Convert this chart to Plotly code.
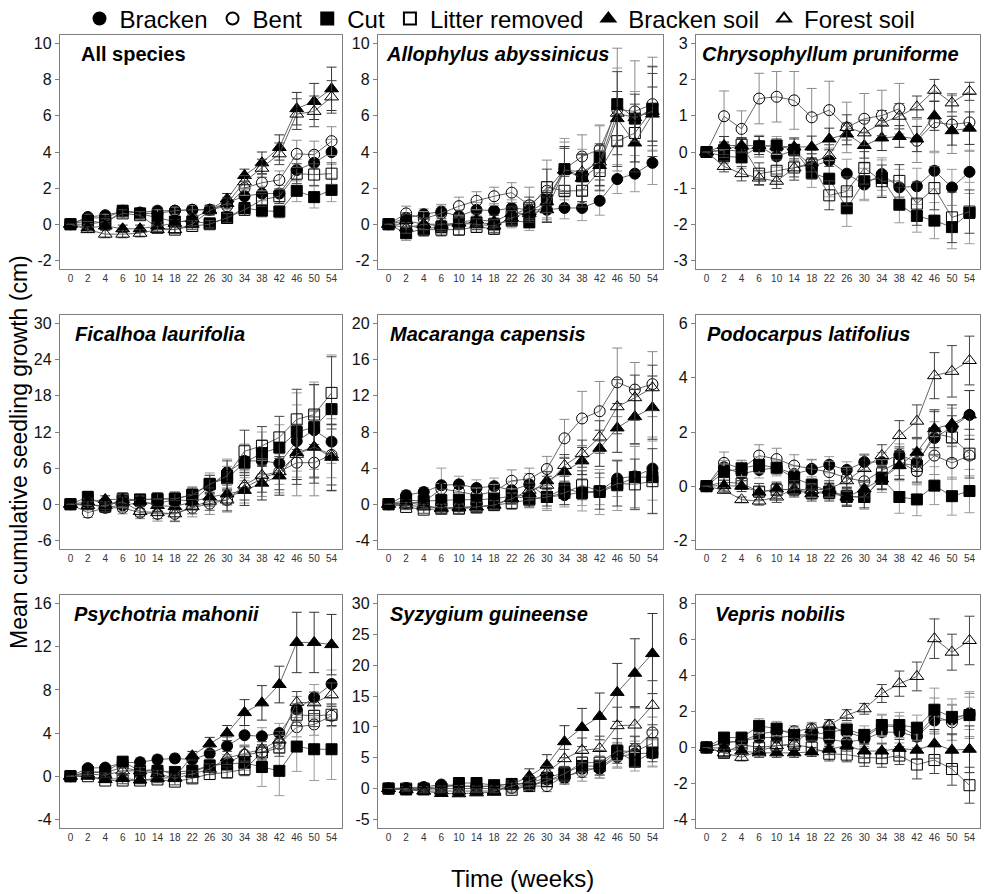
import plotly.graph_objects as go

# ---------------- data ----------------
weeks = ["0", "2", "4", "6", "10", "14", "18", "22", "26", "30", "34", "38", "42", "46", "50", "54"]
treatments = ["Bracken", "Bent", "Cut", "Litter removed", "Bracken soil", "Forest soil"]
panel_titles = ["All species", "Allophylus abyssinicus", "Chrysophyllum pruniforme",
                "Ficalhoa laurifolia", "Macaranga capensis", "Podocarpus latifolius",
                "Psychotria mahonii", "Syzygium guineense", "Vepris nobilis"]
y_limits = [(-2, 10), (-2, 10), (-3, 3), (-6, 30), (-4, 20), (-2, 6), (-4, 16), (-5, 30), (-4, 8)]
y_steps = [2, 2, 1, 6, 4, 2, 4, 5, 2]

# means (order: Bracken, Bent, Cut, Litter removed, Bracken soil, Forest soil)
all_species_mean = [
    [0, 0.4, 0.5, 0.7, 0.65, 0.75, 0.75, 0.8, 0.8, 1.2, 1.55, 1.7, 1.7, 3.0, 3.4, 4.0],
    [0, 0.35, 0.35, 0.75, 0.6, 0.6, 0.75, 0.8, 0.8, 1.0, 2.0, 2.3, 2.45, 3.9, 3.85, 4.6],
    [0, 0.2, 0.05, 0.75, 0.6, 0.35, 0.15, 0.15, 0.05, 0.35, 0.9, 0.75, 0.7, 1.85, 1.5, 1.9],
    [0, 0.0, 0.15, 0.6, 0.5, -0.2, -0.3, -0.1, 0.0, 0.35, 0.8, 1.35, 1.55, 2.8, 2.75, 2.8],
    [0, -0.2, -0.1, -0.25, -0.25, -0.1, 0.05, 0.3, 0.8, 1.4, 2.7, 3.4, 4.25, 6.4, 6.8, 7.5],
    [0, -0.3, -0.55, -0.55, -0.5, -0.3, -0.3, 0.0, 0.75, 1.15, 2.35, 3.1, 3.9, 6.1, 6.25, 7.05],
]
all_species_se = [
    [0, 0.15, 0.15, 0.2, 0.2, 0.2, 0.2, 0.2, 0.25, 0.3, 0.35, 0.4, 0.45, 0.6, 0.65, 0.7],
    [0, 0.2, 0.2, 0.2, 0.2, 0.2, 0.2, 0.25, 0.25, 0.3, 0.4, 0.45, 0.5, 0.75, 0.75, 0.8],
    [0, 0.15, 0.15, 0.2, 0.2, 0.2, 0.2, 0.2, 0.2, 0.25, 0.3, 0.35, 0.35, 0.6, 0.6, 0.65],
    [0, 0.15, 0.15, 0.2, 0.2, 0.2, 0.2, 0.2, 0.2, 0.25, 0.3, 0.35, 0.4, 0.55, 0.6, 0.6],
    [0, 0.15, 0.2, 0.2, 0.2, 0.2, 0.2, 0.2, 0.25, 0.3, 0.35, 0.6, 0.7, 0.9, 1.0, 1.2],
    [0, 0.15, 0.2, 0.2, 0.2, 0.2, 0.2, 0.2, 0.25, 0.3, 0.35, 0.5, 0.6, 0.85, 0.85, 0.9],
]

allophylus_mean = [
    [0, 0.35, 0.55, 0.7, 0.45, 0.8, 0.75, 0.9, 0.8, 0.8, 0.9, 0.9, 1.3, 2.5, 2.8, 3.4],
    [0, 0.6, 0.3, 0.6, 1.0, 1.3, 1.55, 1.75, 1.05, 1.85, 3.05, 3.75, 4.15, 6.35, 6.25, 6.65],
    [0, -0.5, -0.25, -0.15, 0.05, 0.1, 0.0, 0.2, 0.1, 1.35, 3.05, 2.65, 3.7, 6.65, 5.85, 6.4],
    [0, 0.0, -0.3, -0.3, -0.3, -0.15, -0.25, 0.5, 0.9, 2.05, 1.85, 1.85, 2.95, 4.6, 5.05, 6.35],
    [0, 0.2, 0.0, -0.1, 0.1, 0.25, 0.15, 0.6, 0.6, 0.8, 3.0, 2.55, 3.25, 5.85, 4.5, 6.1],
    [0, -0.2, 0.0, 0.0, 0.05, 0.0, -0.1, 0.35, 0.7, 1.25, 3.0, 2.9, 3.45, 6.15, 5.9, 6.25],
]
allophylus_se = [
    [0, 0.3, 0.3, 0.3, 0.35, 0.4, 0.4, 0.45, 0.5, 0.55, 0.6, 0.7, 0.8, 0.8, 1.0, 1.2],
    [0, 0.4, 0.4, 0.5, 0.5, 0.5, 0.5, 0.55, 1.0, 1.7, 1.5, 1.2, 1.3, 3.4, 2.8, 2.6],
    [0, 0.4, 0.4, 0.35, 0.35, 0.4, 0.35, 0.4, 0.45, 1.0, 1.7, 1.5, 1.8, 2.0, 1.5, 2.3],
    [0, 0.3, 0.35, 0.35, 0.3, 0.3, 0.3, 0.4, 0.6, 1.0, 0.8, 0.9, 1.1, 1.4, 1.6, 2.0],
    [0, 0.35, 0.3, 0.3, 0.3, 0.35, 0.35, 0.4, 0.5, 0.7, 1.3, 1.3, 1.1, 1.5, 1.6, 1.5],
    [0, 0.3, 0.3, 0.3, 0.3, 0.3, 0.35, 0.4, 0.5, 0.6, 1.2, 1.0, 1.0, 2.3, 1.3, 2.5],
]

chrysophyllum_mean = [
    [0, 0.06, 0.02, 0.16, -0.12, 0.05, -0.4, -0.24, -0.6, -0.9, -0.61, -0.98, -0.95, -0.52, -0.98, -0.55],
    [0, 0.99, 0.64, 1.48, 1.53, 1.43, 0.96, 1.16, 0.68, 0.92, 1.01, 1.2, 0.31, 0.82, 0.76, 0.82],
    [0, -0.12, -0.15, 0.16, 0.18, 0.06, -0.58, -0.74, -1.56, -0.81, -0.72, -1.46, -1.77, -1.9, -2.08, -1.69],
    [0, 0.05, 0.2, -0.6, -0.52, -0.43, -0.35, -1.2, -1.09, -0.44, -0.81, -0.8, -1.43, -1.0, -1.81, -1.65],
    [0, 0.18, 0.18, 0.18, 0.16, 0.14, 0.14, 0.36, 0.5, 0.18, 0.39, 0.43, 0.36, 1.0, 0.59, 0.66],
    [0, -0.4, -0.6, -0.72, -0.81, -0.44, -0.3, -0.1, 0.68, 0.53, 0.8, 0.99, 1.25, 1.71, 1.36, 1.68],
]
chrysophyllum_se = [
    [0, 0.2, 0.2, 0.3, 0.3, 0.3, 0.35, 0.35, 0.4, 0.45, 0.45, 0.5, 0.5, 0.5, 0.5, 0.6],
    [0, 0.7, 0.5, 0.7, 0.7, 0.8, 0.8, 0.8, 0.7, 0.7, 0.7, 0.7, 0.6, 0.8, 0.8, 0.8],
    [0, 0.2, 0.3, 0.3, 0.25, 0.3, 0.4, 0.5, 0.5, 0.5, 0.5, 0.5, 0.45, 0.5, 0.6, 0.85],
    [0, 0.2, 0.2, 0.3, 0.3, 0.35, 0.4, 0.4, 0.4, 0.45, 0.45, 0.45, 0.6, 0.6, 0.7, 0.6],
    [0, 0.25, 0.2, 0.25, 0.2, 0.25, 0.3, 0.3, 0.3, 0.35, 0.35, 0.3, 0.35, 0.4, 0.4, 0.45],
    [0, 0.15, 0.2, 0.2, 0.2, 0.25, 0.25, 0.3, 0.35, 0.35, 0.35, 0.35, 0.3, 0.3, 0.25, 0.25],
]

ficalhoa_mean = [
    [0, 0.0, -0.5, -0.2, 0.3, 0.1, 0.8, 0.5, 3.0, 5.3, 7.2, 7.2, 6.8, 10.5, 12.3, 10.4],
    [0, -1.4, -0.6, -0.6, -1.4, -1.6, -1.6, -0.6, 0.1, 0.7, 2.7, 4.3, 5.4, 6.9, 6.9, 8.2],
    [0, 1.2, -0.2, 0.5, 0.8, 0.8, 0.9, 1.6, 3.4, 4.3, 6.9, 8.5, 9.4, 12.0, 12.8, 15.8],
    [0, 0.0, -0.4, 0.9, 0.7, 0.9, 0.9, 1.5, 3.3, 4.7, 8.8, 9.7, 11.1, 14.1, 14.9, 18.5],
    [0, 0.4, 0.8, 0.8, 0.5, -0.2, -0.4, 0.4, 1.2, 1.7, 2.3, 3.5, 4.7, 8.6, 9.5, 7.8],
    [0, -0.2, -0.2, 0.4, -1.2, -1.4, -1.6, -0.4, 0.5, 0.7, 3.2, 4.8, 5.4, 8.3, 9.5, 8.2],
]
ficalhoa_se = [
    [0, 0.8, 0.8, 1.0, 1.0, 1.2, 1.3, 1.5, 1.8, 2.2, 2.8, 3.5, 3.5, 6.0, 8.0, 6.0],
    [0, 0.8, 0.8, 1.0, 1.0, 1.2, 1.3, 1.5, 1.8, 2.0, 2.5, 3.0, 3.5, 5.5, 5.5, 6.0],
    [0, 1.0, 0.8, 1.0, 0.8, 1.0, 1.0, 1.3, 1.8, 2.0, 3.0, 3.5, 3.8, 6.5, 7.0, 9.0],
    [0, 0.8, 0.8, 1.0, 0.8, 1.0, 1.0, 1.2, 1.5, 2.5, 3.5, 3.2, 3.5, 5.0, 5.0, 6.0],
    [0, 0.6, 0.6, 0.8, 0.8, 1.0, 1.0, 1.2, 1.5, 1.8, 2.5, 2.8, 3.2, 4.5, 5.0, 5.5],
    [0, 0.6, 0.6, 0.8, 0.8, 1.0, 1.2, 1.2, 1.5, 1.8, 2.5, 2.8, 3.0, 5.0, 6.0, 5.0],
]

macaranga_mean = [
    [0, 1.0, 1.35, 2.1, 2.2, 1.8, 2.0, 1.55, 2.2, 0.8, 1.0, 1.35, 1.45, 2.85, 3.1, 3.95],
    [0, 0.1, 0.25, 1.7, 1.4, 1.0, 1.4, 2.6, 2.8, 3.9, 7.3, 9.5, 10.3, 13.5, 12.7, 13.3],
    [0, 0.45, 0.35, 0.45, 0.5, 0.5, 0.6, 0.9, 0.6, 0.8, 1.75, 1.25, 1.35, 2.1, 3.0, 3.0],
    [0, -0.3, -0.6, -0.5, -0.5, -0.35, -0.1, 0.15, 0.5, 0.8, 1.25, 2.1, 1.45, 2.3, 2.2, 2.55],
    [0, 0.2, -0.1, -0.5, -0.3, -0.3, -0.1, 0.7, 1.2, 2.6, 3.6, 4.8, 6.2, 8.45, 9.7, 10.7],
    [0, -0.1, -0.3, -0.4, -0.4, -0.3, -0.1, 0.6, 1.55, 2.1, 4.3, 5.6, 7.45, 10.8, 11.8, 12.9],
]
macaranga_se = [
    [0, 0.5, 0.5, 1.9, 0.9, 0.9, 0.9, 1.0, 1.2, 1.3, 1.3, 1.5, 1.5, 2.0, 3.5, 3.5],
    [0, 0.4, 0.5, 0.6, 0.6, 0.8, 0.8, 1.2, 1.2, 1.4, 2.1, 3.0, 3.3, 3.8, 3.0, 3.6],
    [0, 0.4, 0.4, 0.6, 0.6, 0.6, 0.7, 0.8, 1.0, 1.5, 1.8, 2.0, 2.5, 2.8, 3.4, 4.0],
    [0, 0.3, 0.4, 0.5, 0.5, 0.6, 0.6, 0.7, 0.8, 1.0, 1.3, 1.6, 2.0, 2.5, 2.8, 3.6],
    [0, 0.3, 0.3, 0.5, 0.4, 0.5, 0.5, 0.6, 0.8, 1.0, 1.5, 1.5, 2.0, 2.7, 3.0, 3.5],
    [0, 0.3, 0.3, 0.4, 0.4, 0.5, 0.5, 0.6, 0.8, 1.0, 1.2, 1.5, 1.8, 3.0, 2.5, 2.5],
]

podocarpus_mean = [
    [0, 0.7, 0.45, 0.6, 0.68, 0.45, 0.62, 0.79, 0.6, 0.89, 0.89, 1.16, 0.89, 1.78, 2.18, 2.63],
    [0, 0.86, 0.64, 1.13, 1.0, 0.76, 0.64, 0.52, 0.3, 0.18, 0.58, 0.89, 0.55, 1.13, 0.86, 1.13],
    [0, 0.52, 0.66, 0.79, 0.68, 0.3, 0.05, -0.2, -0.37, -0.4, 0.27, -0.4, -0.49, 0.02, -0.37, -0.18],
    [0, 0.15, 0.1, -0.2, -0.15, -0.1, -0.25, -0.25, -0.4, -0.4, 0.3, 0.85, 0.75, 1.95, 1.8, 1.2],
    [0, 0.02, 0.0, -0.22, -0.1, -0.15, -0.28, -0.15, -0.4, -0.1, 0.27, 0.76, 1.25, 2.12, 2.3, 2.63],
    [0, -0.15, -0.5, -0.55, -0.4, -0.1, -0.15, -0.1, 0.2, 0.65, 1.13, 1.87, 2.4, 4.08, 4.24, 4.64],
]
podocarpus_se = [
    [0, 0.25, 0.25, 0.3, 0.3, 0.3, 0.35, 0.3, 0.3, 0.3, 0.35, 0.4, 0.5, 0.6, 0.7, 0.9],
    [0, 0.4, 0.3, 0.4, 0.4, 0.4, 0.35, 0.4, 0.4, 0.4, 0.4, 0.5, 0.5, 0.7, 0.6, 0.75],
    [0, 0.3, 0.3, 0.3, 0.25, 0.3, 0.3, 0.3, 0.35, 0.45, 0.5, 0.6, 0.6, 0.7, 0.7, 0.8],
    [0, 0.2, 0.2, 0.3, 0.3, 0.3, 0.3, 0.3, 0.35, 0.4, 0.4, 0.6, 0.6, 0.8, 0.8, 0.9],
    [0, 0.2, 0.2, 0.2, 0.2, 0.2, 0.2, 0.25, 0.3, 0.3, 0.4, 0.5, 0.5, 0.7, 0.7, 0.9],
    [0, 0.1, 0.1, 0.15, 0.2, 0.2, 0.25, 0.3, 0.4, 0.5, 0.4, 0.55, 0.6, 0.85, 0.95, 0.9],
]

psychotria_mean = [
    [0, 0.75, 0.8, 1.25, 1.3, 1.55, 1.65, 1.55, 2.1, 2.8, 3.8, 3.7, 4.0, 6.2, 7.3, 8.55],
    [0, 0.35, 0.35, 0.8, 0.5, 0.65, 0.1, 0.4, 0.95, 1.25, 2.0, 2.2, 3.0, 4.55, 4.8, 5.6],
    [0, 0.4, 0.4, 1.35, 0.5, 0.5, 0.4, 0.5, 1.0, 1.1, 1.25, 0.85, 0.5, 2.75, 2.5, 2.5],
    [0, 0.0, -0.4, -0.4, -0.4, -0.3, -0.5, -0.2, 0.2, 0.35, 0.65, 2.2, 2.65, 5.7, 5.6, 5.7],
    [0, 0.0, -0.3, -0.2, -0.35, -0.2, -0.1, 1.9, 3.0, 4.0, 5.9, 6.8, 8.5, 12.4, 12.4, 12.2],
    [0, 0.2, 0.1, 0.5, 0.5, 0.25, -0.2, 0.2, 0.65, 1.7, 2.1, 2.5, 3.35, 6.85, 6.8, 7.55],
]
psychotria_se = [
    [0, 0.3, 0.3, 0.4, 0.4, 0.4, 0.4, 0.5, 0.6, 0.8, 0.9, 0.8, 0.9, 1.2, 1.2, 1.3],
    [0, 0.3, 0.3, 0.3, 0.3, 0.3, 0.3, 0.4, 0.5, 0.6, 0.7, 0.7, 0.8, 0.9, 1.0, 1.0],
    [0, 0.3, 0.3, 0.4, 0.4, 0.4, 0.4, 0.5, 0.6, 0.6, 0.7, 1.8, 2.3, 2.3, 2.9, 2.8],
    [0, 0.2, 0.2, 0.3, 0.3, 0.3, 0.3, 0.4, 0.5, 0.5, 0.6, 0.7, 0.8, 1.0, 1.0, 1.0],
    [0, 0.2, 0.2, 0.3, 0.3, 0.3, 0.3, 0.4, 0.6, 0.7, 1.2, 1.6, 1.7, 2.8, 2.8, 2.8],
    [0, 0.2, 0.2, 0.3, 0.3, 0.3, 0.3, 0.3, 0.5, 0.6, 0.7, 0.7, 0.8, 1.0, 1.0, 1.1],
]

syzygium_mean = [
    [0, 0.1, 0.25, 0.65, 0.4, 0.25, 0.4, 0.75, 0.4, 1.5, 1.65, 3.2, 3.2, 5.1, 5.7, 5.7],
    [0, -0.1, 0.0, 0.4, 0.4, 0.4, 0.4, 0.1, 0.4, 0.4, 2.0, 2.7, 3.5, 5.3, 6.4, 9.1],
    [0, -0.15, -0.15, 0.0, 0.9, 0.9, 0.55, 0.75, 0.9, 1.75, 2.55, 3.65, 3.65, 6.0, 4.35, 5.85],
    [0, 0.0, 0.0, 0.0, 0.1, 0.0, 0.0, -0.2, 0.4, 1.2, 2.4, 4.2, 4.2, 6.1, 6.0, 7.35],
    [0, -0.15, -0.4, -0.8, -0.85, -0.7, -0.6, 0.65, 2.0, 3.8, 7.6, 9.9, 11.7, 15.6, 18.7, 21.9],
    [0, -0.2, -0.4, -0.4, -0.4, -0.4, -0.4, 0.4, 1.2, 2.6, 4.85, 6.2, 6.5, 10.2, 10.3, 13.5],
]
syzygium_se = [
    [0, 0.3, 0.3, 0.4, 0.4, 0.4, 0.4, 0.5, 0.6, 0.8, 1.0, 1.4, 1.5, 1.8, 2.0, 2.2],
    [0, 0.3, 0.3, 0.4, 0.4, 0.4, 0.4, 0.5, 0.6, 0.9, 1.2, 1.5, 1.8, 1.8, 2.0, 2.5],
    [0, 0.3, 0.3, 0.4, 0.4, 0.4, 0.4, 0.5, 0.6, 0.9, 1.0, 1.5, 1.5, 1.5, 1.5, 2.2],
    [0, 0.3, 0.3, 0.4, 0.4, 0.4, 0.4, 0.5, 0.6, 0.9, 1.2, 1.5, 2.0, 2.0, 2.5, 3.0],
    [0, 0.2, 0.3, 0.3, 0.3, 0.3, 0.3, 0.6, 1.2, 1.7, 2.6, 3.1, 3.8, 4.7, 5.6, 6.5],
    [0, 0.2, 0.3, 0.3, 0.3, 0.3, 0.3, 0.5, 0.8, 1.0, 1.5, 2.0, 2.0, 3.0, 3.0, 4.0],
]

vepris_mean = [
    [0, 0.3, 0.35, 0.55, 0.55, 0.65, 0.6, 0.45, 0.3, 0.45, 0.85, 0.85, 0.6, 1.5, 1.55, 1.9],
    [0, 0.25, 0.35, 0.75, 0.9, 0.9, 1.05, 1.2, 0.85, 0.55, 1.2, 1.15, 0.65, 1.75, 1.4, 1.8],
    [0, 0.55, 0.55, 1.2, 1.05, 0.7, 0.7, 0.85, 1.0, 0.7, 1.25, 1.25, 1.1, 2.1, 1.7, 1.8],
    [0, -0.3, 0.15, 0.0, 0.1, 0.15, 0.0, -0.35, -0.4, -0.55, -0.6, -0.45, -0.95, -0.7, -1.2, -2.1],
    [0, -0.05, -0.2, -0.3, -0.3, -0.3, -0.25, -0.1, 0.1, -0.2, -0.2, -0.05, -0.15, 0.2, -0.15, -0.1],
    [0, -0.3, -0.55, -0.2, 0.1, 0.2, 1.0, 1.25, 1.8, 2.15, 3.0, 3.55, 3.95, 6.05, 5.3, 5.95],
]
vepris_se = [
    [0, 0.2, 0.2, 0.3, 0.3, 0.3, 0.3, 0.35, 0.4, 0.4, 0.6, 0.6, 0.6, 0.7, 0.8, 0.9],
    [0, 0.2, 0.2, 0.3, 0.3, 0.3, 0.35, 0.35, 0.4, 0.4, 0.6, 0.6, 0.7, 1.0, 1.0, 1.2],
    [0, 0.2, 0.2, 0.4, 0.4, 0.4, 0.4, 0.4, 0.4, 0.5, 0.6, 0.7, 0.7, 1.2, 1.0, 1.3],
    [0, 0.25, 0.2, 0.3, 0.3, 0.3, 0.4, 0.4, 0.4, 0.5, 0.5, 0.5, 0.8, 0.75, 0.9, 1.0],
    [0, 0.2, 0.2, 0.25, 0.25, 0.25, 0.25, 0.3, 0.3, 0.4, 0.4, 0.5, 0.5, 0.8, 0.9, 1.3],
    [0, 0.2, 0.2, 0.25, 0.25, 0.3, 0.3, 0.3, 0.3, 0.3, 0.5, 0.7, 0.8, 1.1, 1.0, 1.35],
]

panel_means = [all_species_mean, allophylus_mean, chrysophyllum_mean, ficalhoa_mean,
               macaranga_mean, podocarpus_mean, psychotria_mean, syzygium_mean, vepris_mean]
panel_ses = [all_species_se, allophylus_se, chrysophyllum_se, ficalhoa_se,
             macaranga_se, podocarpus_se, psychotria_se, syzygium_se, vepris_se]

# ---------------- styles ----------------
W, H = 984, 894
symbols = ["circle", "circle-open", "square", "square-open", "triangle-up", "triangle-up-open"]
marker_sizes = [11, 11, 11, 11, 12, 12]
err_colors = ["#9a9a9a", "#8a8a8a", "#9a9a9a", "#444444", "#333333", "#444444"]
col_px = [(60, 342), (378, 663), (696, 980)]
row_px = [(35, 269), (315, 549), (595, 828)]
title_offset_px = [19, 6, 4, 13, 10, 9, 12, 10, 17]
title_italic = [False] + [True] * 8

fig = go.Figure()
layout_axes = {}
annotations = []

for p in range(9):
    r, c = divmod(p, 3)
    idx = "" if p == 0 else str(p + 1)
    xa, ya = "x" + idx, "y" + idx
    x0, x1 = col_px[c]
    y0, y1 = row_px[r]
    lo, hi = y_limits[p]
    pad = (hi - lo) * 0.04
    layout_axes["xaxis" + idx] = dict(
        domain=[x0 / W, x1 / W], anchor=ya, type="category",
        categoryorder="array", categoryarray=weeks,
        range=[-0.6, 15.6], showgrid=False, zeroline=False,
        showline=True, mirror=True, linecolor="#7f7f7f", linewidth=1.3,
        ticks="", tickfont=dict(family="Arial", size=10, color="#333333"),
        tickvals=weeks, ticktext=weeks,
    )
    tv = list(range(lo, hi + 1, y_steps[p]))
    layout_axes["yaxis" + idx] = dict(
        domain=[1 - y1 / H, 1 - y0 / H], anchor=xa,
        range=[lo - pad, hi + pad], showgrid=False, zeroline=False,
        showline=True, mirror=True, linecolor="#7f7f7f", linewidth=1.3,
        ticks="outside", ticklen=4, tickcolor="#7f7f7f",
        tickvals=tv, ticktext=[str(v) for v in tv],
        tickfont=dict(family="Arial", size=16, color="#111111"),
    )
    for t in range(6):
        fig.add_trace(go.Scatter(
            x=weeks, y=panel_means[p][t], xaxis=xa, yaxis=ya,
            mode="lines+markers", showlegend=False, name=treatments[t],
            line=dict(color="#555555", width=0.9),
            marker=dict(symbol=symbols[t], size=marker_sizes[t], color="black",
                        line=dict(color="black", width=1)),
            error_y=dict(type="data", array=panel_ses[p][t], visible=True,
                         color=err_colors[t], thickness=1, width=5),
        ))
    txt = panel_titles[p]
    txt = "<b><i>%s</i></b>" % txt if title_italic[p] else "<b>%s</b>" % txt
    annotations.append(dict(
        text=txt, xref=xa + " domain", yref=ya + " domain",
        x=title_offset_px[p] / (x1 - x0), y=0.92, xanchor="left", yanchor="middle",
        showarrow=False, font=dict(family="Arial", size=20, color="black"),
    ))

# legend-only traces
for t in range(6):
    fig.add_trace(go.Scatter(
        x=[None], y=[None], mode="markers", name=treatments[t], showlegend=True,
        marker=dict(symbol=symbols[t], size=14, color="black", line=dict(color="black", width=1)),
    ))

annotations.append(dict(
    text="Mean cumulative seedling growth (cm)", xref="paper", yref="paper",
    x=19 / W, y=1 - 452 / H, textangle=-90, showarrow=False,
    xanchor="center", yanchor="middle", font=dict(family="Arial", size=23, color="black"),
))
annotations.append(dict(
    text="Time (weeks)", xref="paper", yref="paper",
    x=522 / W, y=1 - 878 / H, showarrow=False,
    xanchor="center", yanchor="middle", font=dict(family="Arial", size=24, color="black"),
))

fig.update_layout(
    width=W, height=H, margin=dict(l=0, r=0, t=0, b=0, autoexpand=False),
    paper_bgcolor="white", plot_bgcolor="white",
    showlegend=True,
    legend=dict(orientation="h", x=500 / W, xanchor="center", y=1.004, yanchor="top",
                font=dict(family="Arial", size=24, color="black"),
                itemsizing="constant", bgcolor="rgba(0,0,0,0)", tracegroupgap=0),
    annotations=annotations,
    **layout_axes,
)

fig.write_html("out.html")
